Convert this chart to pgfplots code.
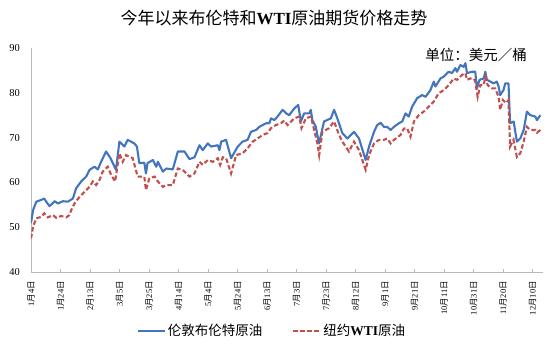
\documentclass[border=0pt]{standalone}
\usepackage{fontspec}
\setmainfont{Liberation Serif}
\newfontfamily\cjk{Noto Sans CJK SC}
\usepackage{pgfplots}
\usepackage{pgfplotstable}
\pgfplotsset{compat=1.18}
\definecolor{brent}{RGB}{66,117,190}
\definecolor{wti}{RGB}{192,80,77}
\definecolor{axgray}{RGB}{185,185,185}
\newcommand{\md}[2]{#1{\cjk 月}#2{\cjk 日}}

\pgfplotstableread{
day val
4 50.9
5.4 53.8
7.6 55.7
11 56.1
13 56.4
14.3 55.7
16.6 54.7
20 55.8
22.2 55.3
25.6 55.8
29 55.7
32.4 56.4
34.6 58.7
38 60.2
41.4 61.3
43.7 62.8
47 63.5
49.3 62.9
51.5 64.6
54.9 66.9
57.9 65.4
61.6 62.8
63.9 69.1
67.3 68.0
69.5 69.5
74 68.7
75.8 68.0
77.4 64.3
80.8 64.4
81.9 62.0
83 64.3
86.6 65.0
88.9 63.5
90 64.6
93.4 62.4
95.7 63.1
100.1 62.9
103.5 66.9
108 66.9
111.4 65.2
114.8 65.6
118.2 68.3
120.4 67.2
123.8 68.7
126.1 68.0
130.6 68.3
131.7 67.2
132.9 69.1
136.2 69.5
139.6 65.4
144.1 68.0
147.4 69.1
150.8 69.5
153.1 71.3
156.5 71.7
158.7 72.4
163.3 73.2
165.5 73.2
166.7 74.3
168.9 73.9
171.1 74.7
174.5 76.2
177 75.4
179 75.0
182.4 76.5
185.1 77.3
186.9 73.6
189.1 75.4
192.5 75.4
193.6 76.2
194.7 73.9
197 72.4
199.2 68.7
202.6 73.6
207.2 74.3
209.4 76.2
211.6 74.3
215 71.0
218.4 69.8
222.9 71.3
226.3 69.8
230.8 65.0
233.1 68.0
236.5 71.3
238.6 72.8
241 73.3
243.2 72.4
245.4 72.4
247.7 71.7
250 72.4
253.3 73.2
255.6 73.6
257.8 75.4
260 74.7
262.3 76.9
265.7 78.8
269.1 79.5
271.4 79.1
274.7 80.6
277 82.5
278.1 81.4
281.5 83.2
283.7 83.6
287.1 84.7
289.3 84.4
291.6 85.5
292.7 84.7
295 86.2
297.2 85.8
298.4 86.6
299.5 84.4
302.9 84.7
305.1 84.7
306.2 81.0
308 82.9
310.8 83.2
311.9 84.7
313 82.9
315.3 82.5
317.5 82.1
319.7 82.5
320.9 81.4
322 79.5
324.2 80.6
325.4 82.1
327.6 82.1
328.7 73.2
331.1 73.6
333.3 69.1
335.6 69.8
337.9 71.7
340.1 75.8
342.4 75.0
345.8 74.7
346.9 73.9
349.2 75.0
}\brent

\pgfplotstableread{
day val
4 47.5
5.4 50.1
7.6 52.0
11 52.3
13 53.1
15.5 52.2
18.9 52.7
21.1 52.1
24.5 52.5
27.9 52.2
30.1 52.7
31.2 53.8
33.5 55.3
36.9 56.8
40.3 57.9
43.7 59.0
45.9 60.2
48.1 59.4
50.4 60.5
52.6 62.4
56 63.5
58.3 61.7
61 60.2
63.9 66.5
66.2 64.6
68.4 66.1
72.9 65.4
76.3 61.3
80.8 61.3
81.9 58.3
84.2 60.9
87.8 61.3
90 60.2
93.4 59.0
95.7 59.4
100.1 59.4
103.5 63.1
106.9 62.8
111.4 61.3
114.8 62.0
118.2 64.6
120.4 63.9
123.8 65.0
127.2 64.6
130.6 65.4
132.2 63.9
134 65.6
136.2 65.4
139.6 62.0
143 66.1
147.4 66.5
150.8 67.6
154.2 69.1
157.6 69.8
161 70.6
164.3 71.0
166.6 72.1
170 72.8
173.4 73.2
175.6 73.8
177.9 72.8
182.4 74.3
185.8 74.7
187.3 72.1
190.3 74.3
193.7 74.7
195.9 71.7
198.1 68.7
199.3 66.1
201.5 71.3
206 72.1
209.4 73.6
212.8 70.6
215 69.1
219.5 66.9
222.9 69.1
226.3 67.2
230.8 62.8
233.1 66.1
236.5 68.7
239.8 69.5
243.2 69.5
245.4 69.8
247.7 68.7
250 69.5
254.5 70.6
256.7 72.0
258.9 72.1
261.2 70.2
263.5 73.6
266.8 75.0
270.1 75.8
273.5 76.9
276.9 78.0
280.3 79.9
283.7 80.6
287.1 81.7
290.5 83.2
292.7 82.9
296.1 84.0
298.4 84.4
299.5 82.9
301.7 83.2
304 83.2
305.1 82.5
306.7 79.1
308.5 81.7
310.8 81.7
311.9 83.6
313.5 81.7
316.4 81.0
318.6 81.0
320.9 79.1
322 76.2
323.8 78.4
326 77.7
327.6 78.4
328.7 68.0
331 69.5
333.3 65.7
335.6 66.5
337.9 69.1
340.1 72.4
342.4 71.7
345.8 71.7
346.9 71.1
349.2 71.7
}\wti

\begin{document}
\begin{tikzpicture}
\path[use as bounding box] (0pt,0pt) rectangle (554pt,354pt);
\begin{axis}[
  at={(31pt,82pt)}, anchor=south west,
  scale only axis, width=512pt, height=224pt,
  xmin=4, xmax=351, ymin=40, ymax=90,
  axis lines*=left,
  axis line style={axgray, line width=0.8pt},
  xtick={4,24,44,64,84,104,124,144,164,184,204,224,244,264,284,304,324,344},
  xticklabels={\md{1}{4},\md{1}{24},\md{2}{13},\md{3}{5},\md{3}{25},\md{4}{14},\md{5}{4},\md{5}{24},\md{6}{13},\md{7}{3},\md{7}{23},\md{8}{12},\md{9}{1},\md{9}{21},\md{10}{11},\md{10}{31},\md{11}{20},\md{12}{10}},
  ytick={40,50,60,70,80,90},
  /pgf/number format/assume math mode=true,
  tick align=inside,
  major tick length=3pt,
  xtick style={axgray, line width=0.6pt},
  ytick style={draw=none},
  xticklabel style={rotate=90, anchor=east, inner sep=0pt, font=\fontsize{8.5}{9}\selectfont},
  xticklabel shift=9pt,
  yticklabel style={anchor=east, inner sep=0pt, font=\fontsize{10.5}{11}\selectfont},
  yticklabel shift=11pt,
  legend columns=2,
  legend style={draw=none, fill=none, inner sep=0pt, at={(0.206,-0.262)}, anchor=west,
    font=\fontsize{13.5}{14}\selectfont,
    /tikz/every even column/.append style={column sep=28pt}},
  legend cell align=left,
  legend image code/.code={\draw[#1] (0pt,0pt) -- (27pt,0pt);},
]
\addplot[brent, line width=2.1pt, line join=round] table[x=day, y=val] {\brent};
\addlegendentry{\cjk 伦敦布伦特原油}
\addplot[wti, line width=2.1pt, dash pattern=on 4.5pt off 2.5pt] table[x=day, y=val] {\wti};
\addlegendentry{{\cjk 纽约}\textbf{WTI}{\cjk 原油}}
\end{axis}
\node at (274pt,336pt) {\fontsize{17}{18}\selectfont{\cjk 今年以来布伦特和}\textbf{WTI}{\cjk 原油期货价格走势}};
\node at (476pt,299pt) {\cjk\fontsize{14.5}{15}\selectfont 单位：美元／桶};
\end{tikzpicture}
\end{document}
